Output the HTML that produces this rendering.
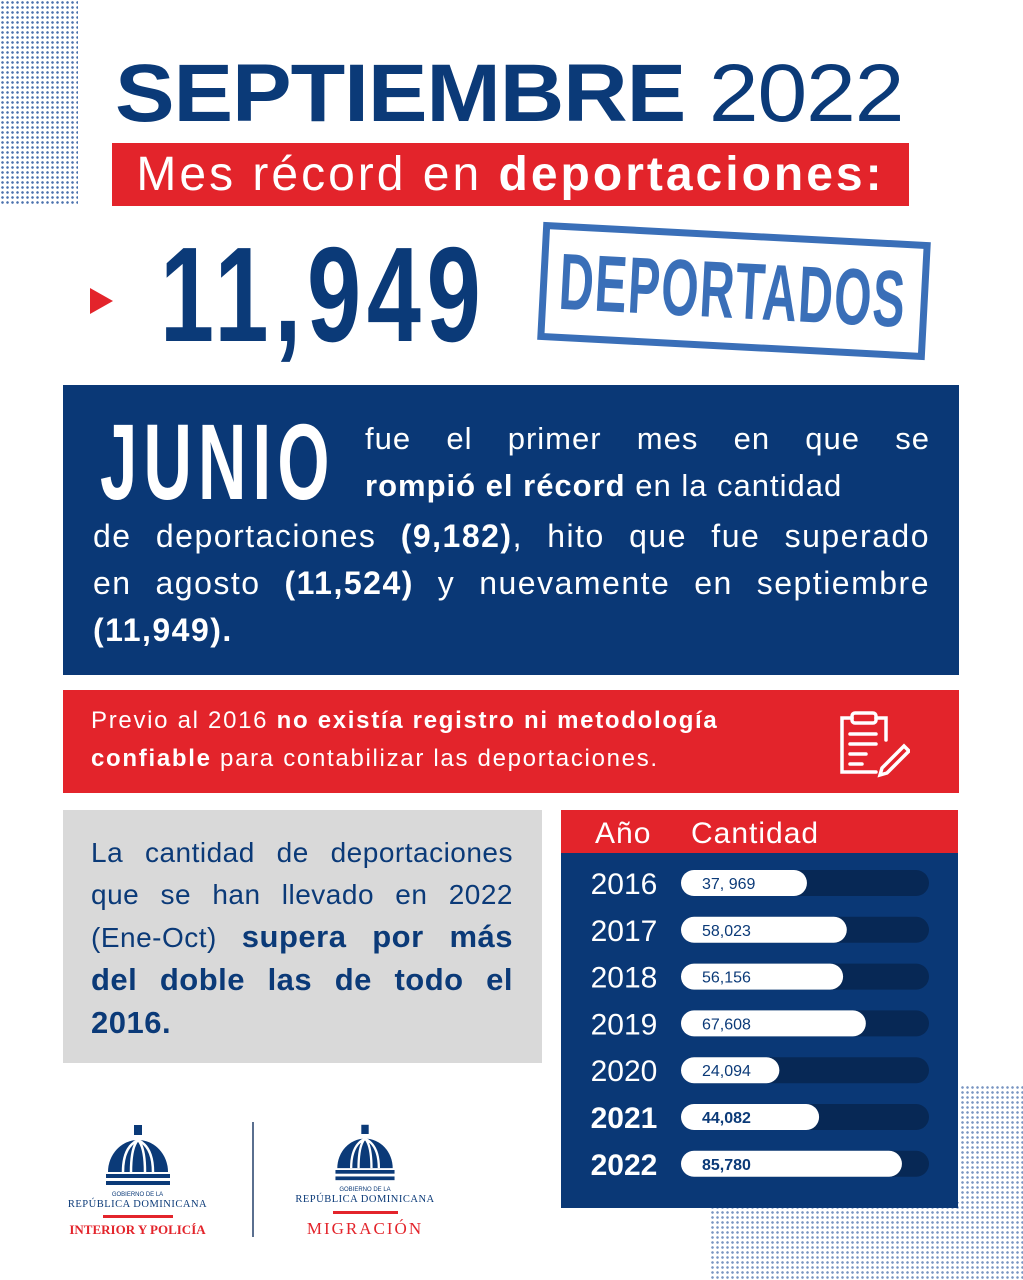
<!DOCTYPE html>
<html><head><meta charset="utf-8">
<style>
*{margin:0;padding:0;box-sizing:border-box}
body{width:1023px;height:1280px;background:#fff;position:relative;overflow:hidden;font-family:"Liberation Sans",sans-serif;color:#0b3a78}
.abs{position:absolute}
.dots{background-image:radial-gradient(circle,#1f4f9a 1.1px,transparent 1.5px);background-size:5px 5px}
.j{text-align:justify;text-align-last:justify;white-space:nowrap}
</style></head><body>
<div class="abs dots" style="left:0;top:0;width:78px;height:205px;opacity:.8"></div>
<div class="abs dots" style="left:710px;top:1085px;width:313px;height:195px;opacity:.6;clip-path:polygon(80% 0,100% 0,100% 100%,0 100%,0 60%,80% 60%)"></div>

<div class="abs" style="left:115px;top:52px;font-size:82px;line-height:84px;white-space:nowrap;letter-spacing:-1px;color:#0b3a78;transform:scaleX(1.09);transform-origin:left"><b>SEPTIEMBRE</b> 2022</div>
<div class="abs" style="left:112px;top:143px;width:797px;height:63px;background:#e3242b;color:#fff;font-size:48px;line-height:63px;text-align:center;white-space:nowrap;letter-spacing:3px">Mes récord en <b>deportaciones:</b></div>

<div class="abs" style="left:90px;top:288px;width:0;height:0;border-left:23px solid #e3242b;border-top:13px solid transparent;border-bottom:13px solid transparent"></div>
<div class="abs" style="left:160px;top:225px;font-size:135px;line-height:140px;font-weight:bold;transform:scaleX(.72);transform-origin:left;letter-spacing:8px;color:#0b3a78">11,949</div>
<div class="abs" style="left:540px;top:232px;width:388px;height:118px;border:7px solid #3a6fb8;transform:rotate(3deg);color:#3a6fb8">
 <div class="abs" style="left:12px;top:0;font-size:80px;font-weight:bold;line-height:104px;white-space:nowrap;transform:scaleX(.6);transform-origin:left;letter-spacing:2px">DEPORTADOS</div>
</div>

<div class="abs" style="left:63px;top:385px;width:896px;height:290px;background:#0a3876;color:#fff">
 <div class="abs" style="left:37px;top:22px;font-size:108px;font-weight:bold;line-height:110px;transform:scaleX(.62);transform-origin:left;letter-spacing:10px">JUNIO</div>
 <div class="abs" style="left:302px;top:30px;width:565px;font-size:31px;line-height:47px;letter-spacing:1px">
  <div class="j">fue el primer mes en que se</div>
  <div style="white-space:nowrap"><b>rompió el récord</b> en la cantidad</div>
 </div>
 <div class="abs" style="left:30px;top:128px;width:837px;font-size:32px;line-height:47px;letter-spacing:1.5px">
  <div class="j">de deportaciones <b>(9,182)</b>, hito que fue superado</div>
  <div class="j">en agosto <b>(11,524)</b> y nuevamente en septiembre</div>
  <div><b>(11,949).</b></div>
 </div>
</div>

<div class="abs" style="left:63px;top:690px;width:896px;height:103px;background:#e3242b;color:#fff">
 <div class="abs" style="left:28px;top:12px;font-size:24px;line-height:38px;letter-spacing:1.7px;white-space:nowrap">Previo al 2016 <b>no existía registro ni metodología</b><br><b>confiable</b> para contabilizar las deportaciones.</div>
 <svg class="abs" style="left:775px;top:20px" width="72" height="68" viewBox="0 0 72 68" fill="none" stroke="#fff" stroke-width="3.5" stroke-linecap="round"><path d="M14 8H4v54h34M38 8h10v22"/><rect x="14" y="3" width="24" height="10" rx="3"/><path d="M12 24h26M12 34h26M12 44h16M12 54h12"/><path d="M44 58l22-22 5 5-22 22-7 2z"/></svg>
</div>

<div class="abs" style="left:63px;top:810px;width:479px;height:253px;background:#d9d9d9">
 <div class="abs" style="left:28px;top:22px;width:422px;font-size:28px;line-height:42px;color:#0b3a78;letter-spacing:.5px">
  <div class="j">La cantidad de deportaciones</div>
  <div class="j">que se han llevado en 2022</div>
  <div class="j">(Ene-Oct) <b style="font-size:31px">supera por más</b></div>
  <div class="j"><b style="font-size:31px">del doble las de todo el</b></div>
  <div><b style="font-size:31px">2016.</b></div>
 </div>
</div>

<div class="abs" style="left:561px;top:810px;width:397px;height:398px;background:#0a3876"></div>
<div class="abs" style="left:561px;top:810px;width:397px;height:43px;background:#e3242b;color:#fff;font-size:30px;line-height:48px;letter-spacing:1px">
 <span class="abs" style="left:34px">Año</span>
 <span class="abs" style="left:130px">Cantidad</span>
</div>
<svg class="abs" id="chart" style="left:0;top:0" width="1023" height="1280"></svg>

<div class="abs" style="left:252px;top:1122px;width:2px;height:115px;background:#5a6f8f"></div>
<div class="abs" style="left:60px;top:1122px;width:155px;text-align:center">
 <svg width="70" height="65" viewBox="0 0 70 65"><rect x="31" y="3" width="8" height="10" fill="#0b3a78"/><path d="M5 50A30 32 0 0 1 65 50Z" fill="#0b3a78"/><path d="M20 50Q20 25 35 18M28 50Q28 25 35 18M42 50Q42 25 35 18M50 50Q50 25 35 18" stroke="#fff" stroke-width="2.5" fill="none"/><rect x="3" y="52" width="64" height="4" fill="#0b3a78"/><rect x="3" y="59" width="64" height="4" fill="#0b3a78"/></svg>
 <div style="font-size:6px;line-height:7px">GOBIERNO DE LA</div>
 <div style="font-family:'Liberation Serif',serif;font-size:10.5px;line-height:12px;letter-spacing:.5px">REPÚBLICA DOMINICANA</div>
 <div style="margin:4px auto;width:70px;height:3px;background:#e3242b"></div>
 <div style="font-family:'Liberation Serif',serif;font-size:13px;font-weight:bold;color:#e3242b">INTERIOR Y POLICÍA</div>
</div>
<div class="abs" style="left:290px;top:1122px;width:150px;text-align:center">
 <svg width="70" height="60" viewBox="0 0 70 65"><rect x="31" y="3" width="8" height="10" fill="#0b3a78"/><path d="M5 50A30 32 0 0 1 65 50Z" fill="#0b3a78"/><path d="M20 50Q20 25 35 18M28 50Q28 25 35 18M42 50Q42 25 35 18M50 50Q50 25 35 18" stroke="#fff" stroke-width="2.5" fill="none"/><rect x="3" y="52" width="64" height="4" fill="#0b3a78"/><rect x="3" y="59" width="64" height="4" fill="#0b3a78"/></svg>
 <div style="font-size:6px;line-height:7px">GOBIERNO DE LA</div>
 <div style="font-family:'Liberation Serif',serif;font-size:10.5px;line-height:12px;letter-spacing:.5px">REPÚBLICA DOMINICANA</div>
 <div style="margin:5px auto;width:65px;height:3px;background:#e3242b"></div>
 <div style="font-family:'Liberation Serif',serif;font-size:17px;letter-spacing:2px;color:#e3242b">MIGRACIÓN</div>
</div>

<script>
const years = ["2016","2017","2018","2019","2020","2021","2022"];
const values = [37969,58023,56156,67608,24094,44082,85780];
const valueLabels = ["37, 969","58,023","56,156","67,608","24,094","44,082","85,780"];
const boldRows = [false,false,false,false,false,true,true];
const NS="http://www.w3.org/2000/svg";
const svg=document.getElementById('chart');
const x0=681, trackW=248, barH=26, y0=883, step=46.8;
function xLen(v){return 50.5+v*0.001987;}
function yPos(i){return y0+i*step;}
function mk(tag,attrs){const e=document.createElementNS(NS,tag);for(const k in attrs)e.setAttribute(k,attrs[k]);svg.appendChild(e);return e;}
years.forEach((yr,i)=>{
  const cy=yPos(i);
  const tr=mk('rect',{x:x0,y:cy-barH/2,width:trackW,height:barH,rx:13,fill:'#072855'});
  
  
  const b=mk('rect',{x:x0,y:cy-barH/2,width:xLen(values[i]),height:barH,rx:13,fill:'#fff'});
  
  
  const yl=mk('text',{x:624,y:cy+11,'text-anchor':'middle','font-size':30,fill:'#fff','font-family':'Liberation Sans, sans-serif','font-weight':boldRows[i]?'bold':'normal'});
  yl.textContent=yr;
  
  
  const vl=mk('text',{x:702,y:cy+6,'font-size':16,fill:'#0b3a78','font-family':'Liberation Sans, sans-serif','font-weight':boldRows[i]?'bold':'normal'});
  vl.textContent=valueLabels[i];
  
  
});
</script>
</body></html>
